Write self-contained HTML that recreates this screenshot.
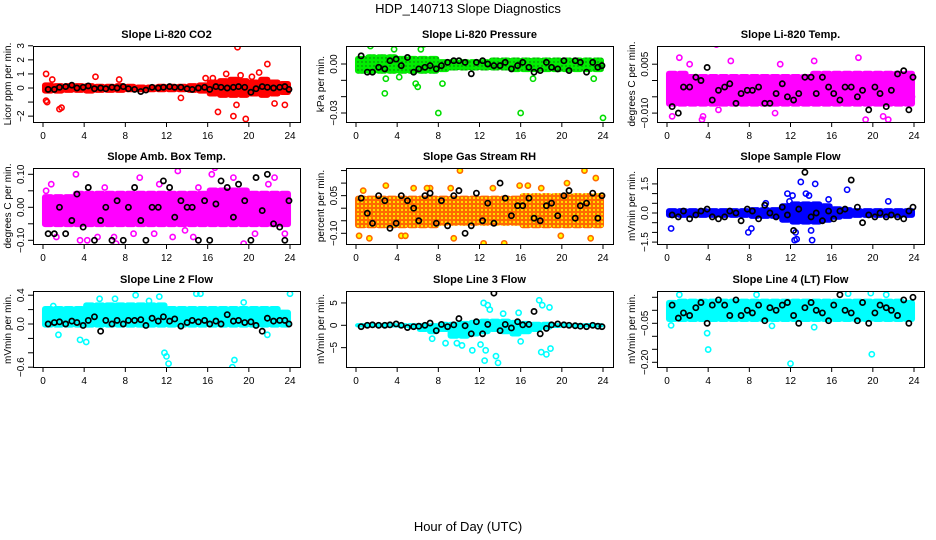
<!DOCTYPE html>
<html><head><meta charset="utf-8"><style>
body{margin:0;background:#fff;}
svg{display:block;font-family:"Liberation Sans",sans-serif;}
</style></head><body>
<svg id="chart" width="936" height="540" viewBox="0 0 936 540">
<defs>
<pattern id="rhpat" width="4" height="4" patternUnits="userSpaceOnUse"><rect width="4" height="4" fill="#ff6a00"/><circle cx="2" cy="2" r="1" fill="#ffff00"/></pattern>
<pattern id="grpat" width="4" height="4" patternUnits="userSpaceOnUse"><rect width="4" height="4" fill="#00ee00"/><circle cx="2" cy="2" r="0.7" fill="#116611"/></pattern>
</defs>
<text x="468" y="13" text-anchor="middle" font-size="13">HDP_140713  Slope Diagnostics</text>
<text x="468" y="531" text-anchor="middle" font-size="13">Hour of Day (UTC)</text>
</svg>
<script>
const HX=[0.5,1.1,1.6,2.2,2.8,3.3,3.9,4.4,5.0,5.6,6.1,6.7,7.2,7.8,8.3,8.9,9.5,10.0,10.6,11.2,11.7,12.3,12.8,13.4,14.0,14.5,15.1,15.7,16.2,16.8,17.3,17.9,18.5,19.0,19.6,20.2,20.7,21.3,21.8,22.4,23.0,23.5,23.9];
const HOURS=[0,1,2,3,4,5,6,7,8,9,10,11,12,13,14,15,16,17,18,19,20,21,22,23];
const xTicks=[0,4,8,12,16,20,24];

const co2Lo=[-0.4,-0.4,-0.35,-0.35,-0.4,-0.35,-0.35,-0.35,-0.3,-0.3,-0.3,-0.3,-0.3,-0.3,-0.35,-0.4,-0.6,-0.7,-0.7,-0.7,-0.6,-0.7,-0.6,-0.5];
const co2Hi=[0.4,0.35,0.35,0.35,0.35,0.3,0.3,0.35,0.3,0.25,0.25,0.3,0.3,0.3,0.35,0.4,0.6,0.7,0.8,0.7,0.6,0.8,0.6,0.5];
const co2Mean=[-0.1,-0.1,0.05,0.1,0.2,0,0.05,0.15,-0.05,0,-0.05,0.05,0,0.1,-0.05,-0.1,-0.25,-0.15,0.05,0,0.05,0.1,0.05,0.05,-0.05,-0.1,0,0.05,-0.1,0.1,0.05,0,0.05,0.1,0.05,-0.3,-0.05,0.1,0.05,0,0.05,0.1,-0.1];
const co2OutX=[0.3,0.4,0.3,1.6,1.8,5.1,7.4,13.4,17,18.5,18.9,19.7,18.8,21.8,23.5,21,22.5,15.8,0.9,20.3,17.8,19.2,16.5];
const co2OutY=[1.0,-1.0,-0.9,-1.5,-1.4,0.8,0.6,-0.7,-1.7,-2.0,2.9,-2.2,-1.2,1.7,-1.2,1.1,-1.1,0.7,0.6,0.8,1.0,0.9,0.7];

const prLo=[-0.006,-0.006,-0.006,-0.006,-0.006,-0.006,-0.006,-0.006,-0.005,-0.004,-0.004,-0.004,-0.004,-0.004,-0.004,-0.005,-0.005,-0.005,-0.005,-0.005,-0.005,-0.005,-0.005,-0.005];
const prHi=[0.005,0.006,0.006,0.006,0.005,0.005,0.005,0.005,0.003,0.003,0.003,0.003,0.003,0.004,0.004,0.004,0.004,0.004,0.004,0.004,0.004,0.004,0.004,0.004];
const prMean=[0.005,-0.005,-0.005,-0.002,-0.003,0.002,0.003,-0.001,0.004,-0.005,-0.003,-0.002,-0.001,-0.003,-0.001,0.001,0.002,0.002,0.001,-0.006,0.001,0.002,0,-0.001,-0.001,0.001,-0.003,-0.001,0.001,-0.002,-0.005,-0.004,0.001,-0.002,-0.003,0.002,-0.004,0.002,0.001,-0.005,0.001,-0.002,-0.001];
const prOutX=[1.4,2.8,3.7,8,16,24,6,5.8,8.4,2.9,6.6,6.3,4.2,17.2,23.1];
const prOutY=[0.011,-0.018,0.009,-0.030,-0.030,-0.033,-0.014,-0.012,-0.012,-0.009,0.012,0.009,-0.008,-0.009,-0.009];

const tLo=[-0.008,-0.008,-0.008,-0.008,-0.008,-0.008,-0.008,-0.008,-0.008,-0.008,-0.008,-0.008,-0.008,-0.008,-0.008,-0.008,-0.008,-0.008,-0.008,-0.008,-0.008,-0.008,-0.008,-0.008];
const tHi=[0.003,0.003,0.002,0.002,0.002,0.002,0.002,0.002,0.002,0.002,0.002,0.002,0.002,0.002,0.003,0.003,0.003,0.003,0.003,0.003,0.003,0.003,0.003,0.003];
const tMean=[-0.008,-0.010,-0.002,-0.002,0.001,0,0.004,-0.006,-0.003,-0.002,-0.001,-0.007,-0.004,-0.003,-0.003,-0.002,-0.007,-0.007,-0.004,-0.001,-0.005,-0.006,-0.004,0.001,0.001,-0.004,0.001,-0.002,-0.004,-0.006,-0.002,-0.002,-0.005,-0.003,-0.009,-0.002,-0.004,-0.008,-0.003,0.002,0.003,-0.009,0.001];
const tOutX=[0.5,1.2,2,3.5,4.8,22.6,18.6,11,21,21.5,3.4,5,2.2,6.2,10.5,14.3,19.3,23.8];
const tOutY=[-0.011,0.007,-0.014,-0.011,0.011,-0.016,0.007,0.005,-0.011,-0.012,-0.012,-0.009,0.005,0.006,-0.010,0.006,-0.012,-0.005];

const aLo=[-0.06,-0.06,-0.06,-0.06,-0.06,-0.06,-0.06,-0.06,-0.06,-0.06,-0.06,-0.06,-0.06,-0.06,-0.06,-0.06,-0.06,-0.06,-0.06,-0.06,-0.06,-0.06,-0.06,-0.06];
const aHi=[0.04,0.04,0.04,0.05,0.05,0.05,0.05,0.05,0.05,0.05,0.05,0.05,0.05,0.05,0.05,0.05,0.06,0.06,0.06,0.06,0.05,0.05,0.05,0.05];
const aMean=[-0.08,-0.08,0,-0.08,-0.04,0.04,-0.06,0.06,-0.1,-0.04,0,-0.1,0.02,-0.1,0,0.06,-0.04,-0.1,0,0,0.08,0.06,-0.03,0.02,0,0,-0.1,0.02,-0.1,0.01,0.08,0.06,-0.03,0.07,0.02,-0.1,0.09,-0.01,0.1,-0.05,-0.06,-0.1,0.02];
const aOutX=[0.3,0.8,1.3,3.2,3.6,4.3,5.3,6.9,7.1,9.4,10.8,11.3,12.6,13.1,13.8,14.6,16.4,16.7,18.5,19.5,20.6,21.9,22.5,23.5,6.0,8.8,15.1];
const aOutY=[0.05,0.07,-0.09,0.1,-0.1,-0.1,-0.09,-0.09,-0.11,0.09,-0.08,0.07,-0.09,0.11,-0.07,-0.09,0.1,0.12,0.09,-0.11,-0.08,0.07,0.09,-0.08,0.06,-0.08,0.06];

const rLo=[-0.08,-0.08,-0.08,-0.08,-0.08,-0.08,-0.08,-0.08,-0.07,-0.07,-0.07,-0.07,-0.07,-0.07,-0.07,-0.07,-0.08,-0.08,-0.08,-0.08,-0.08,-0.08,-0.08,-0.08];
const rHi=[0.05,0.05,0.05,0.05,0.05,0.05,0.05,0.05,0.05,0.05,0.05,0.05,0.05,0.05,0.05,0.05,0.06,0.06,0.06,0.06,0.06,0.06,0.06,0.06];
const rMean=[0.04,-0.02,-0.06,0.05,0.03,-0.08,-0.06,0.05,0.03,0,-0.05,0.05,0.06,-0.06,0.03,-0.07,0.05,0.07,-0.1,-0.07,0.06,-0.05,0.02,-0.06,0.1,0.04,-0.03,0.01,0.01,0.04,-0.04,-0.05,0.01,0.02,-0.03,0.05,0.07,-0.04,0.01,0.02,0.06,-0.04,0.05];
const rOutX=[0.3,1.3,2.9,4.4,4.8,5.6,7.2,9.2,9.5,10.1,12.4,13.3,14.4,15.9,16.7,19.9,20.5,22.2,23.3,22.8,0.7,6.9,18.0];
const rOutY=[-0.11,-0.12,0.09,-0.11,-0.11,0.08,0.08,0.08,-0.12,0.15,-0.14,0.08,-0.14,0.09,0.09,-0.11,0.1,0.15,0.12,-0.12,0.07,0.08,0.08];

const sLo=[-0.25,-0.25,-0.25,-0.25,-0.25,-0.25,-0.25,-0.25,-0.3,-0.3,-0.3,-0.5,-0.6,-0.6,-0.6,-0.5,-0.35,-0.3,-0.25,-0.25,-0.25,-0.25,-0.25,-0.25];
const sHi=[0.25,0.25,0.25,0.25,0.25,0.25,0.25,0.25,0.3,0.3,0.3,0.5,0.6,0.6,0.6,0.5,0.35,0.3,0.25,0.25,0.25,0.25,0.25,0.25];
const sMean=[-0.1,-0.2,0.1,-0.3,-0.1,0.1,0.2,-0.2,-0.3,-0.2,0.1,0,-0.4,0.2,0.1,-0.3,0.4,0,-0.2,0.3,-0.1,-0.9,0.2,2.1,-0.2,0,-0.4,0.1,-0.3,0.1,0.2,1.7,0.3,-0.5,-0.1,-0.2,0,-0.2,-0.1,-0.2,-0.3,0.1,0.3];
const sOutX=[0.4,7.9,8.2,12.5,13.0,14.4,17.5,11.7,12.2,12.4,13.5,13.8,14.1,15.7,11.9,14.0,12.6,21.5,9.6];
const sOutY=[-0.8,-1.0,-0.8,-1.0,1.6,1.5,1.2,1.0,0.9,-1.4,1.0,0.9,-1.4,0.7,0.6,-0.9,-1.35,0.6,0.5];

const l2Lo=[-0.05,-0.05,-0.05,-0.05,-0.05,-0.05,-0.05,-0.05,-0.05,-0.05,-0.05,-0.05,-0.05,-0.05,-0.05,-0.05,-0.05,-0.05,-0.05,-0.05,-0.05,-0.05,-0.05,-0.05];
const l2Hi=[0.25,0.25,0.25,0.25,0.3,0.3,0.3,0.3,0.3,0.3,0.3,0.3,0.25,0.25,0.25,0.25,0.25,0.25,0.25,0.25,0.25,0.25,0.25,0.2];
const l2Mean=[0.0,0.02,0.03,0.0,0.04,0.02,-0.02,0.05,0.1,-0.1,0.05,0.0,0.05,0.0,0.05,0.05,0.06,-0.02,0.08,0.04,0.1,0.04,0.07,-0.03,0.02,0.05,0.03,0.05,0.0,0.04,0.0,0.13,0.04,0.05,0.02,0.03,-0.02,-0.1,0.08,0.04,0.05,0.05,0.0];
const l2OutX=[4.6,12.0,12.2,11.8,18.4,18.6,24.0,4.2,3.6,1.5,5.5,7.0,9.0,11.3,14.9,15.3,19.5,21.8,1.0,10.3];
const l2OutY=[0.5,-0.45,-0.55,-0.4,-0.6,-0.5,0.42,-0.25,-0.22,-0.15,0.35,0.35,0.4,0.38,0.42,0.42,0.3,-0.15,0.25,0.32];

const l3Lo=[-0.5,-0.5,-0.5,-0.5,-0.6,-0.8,-1.5,-2.0,-1.5,-3.0,-3.0,-2.5,-2.0,-1.5,-2.0,-2.5,-2.0,-1.5,-1.0,-0.6,-0.5,-0.5,-0.5,-0.5];
const l3Hi=[0.5,0.5,0.5,0.5,0.5,0.5,0.5,0.5,0.8,0.8,1.0,1.2,1.5,1.5,1.5,1.2,1.0,0.8,0.8,0.5,0.5,0.5,0.5,0.5];
const l3Mean=[-0.3,0,0.1,0,0,0.1,0.3,0,-0.5,-0.3,-0.2,0,0.5,-1.2,0.2,-0.3,0.1,1.5,-0.1,-1.9,0.8,-1.9,0.2,7.2,-1.2,0.2,-0.6,0.8,0.1,0.2,3.1,-1.9,-0.7,0.1,0.3,0.1,0,-0.1,-0.2,-0.3,0,-0.2,-0.3];
const l3OutX=[12.4,12.8,13.0,12.5,13.8,13.6,17.8,18.1,18.8,18.0,18.5,15.8,14.3,11.3,8.7,9.8,10.3,12.1,12.6,16.0,7.4,18.9];
const l3OutY=[5.0,4.5,3.5,-7.9,-8.4,-6.9,5.6,4.5,4.0,-6.0,-6.5,2.8,2.6,-5.6,-4.0,-4.0,-4.5,-4.3,-5.6,-3.6,-3.0,-5.2];

const l4Lo=[-0.045,-0.045,-0.045,-0.045,-0.045,-0.045,-0.045,-0.045,-0.045,-0.045,-0.045,-0.045,-0.045,-0.045,-0.045,-0.045,-0.045,-0.045,-0.045,-0.045,-0.045,-0.045,-0.045,-0.045];
const l4Hi=[0.04,0.045,0.045,0.045,0.045,0.045,0.045,0.045,0.045,0.045,0.045,0.045,0.045,0.045,0.045,0.045,0.045,0.045,0.045,0.045,0.045,0.045,0.045,0.04];
const l4Mean=[0.02,-0.03,-0.01,-0.02,0.01,0.03,-0.05,0.02,0.04,0.02,-0.02,0.04,-0.02,0.0,-0.01,0.02,-0.04,0.01,0.0,0.02,0.03,-0.02,-0.05,0.01,0.03,0,-0.01,-0.04,0.02,0.06,0,-0.01,-0.04,0.03,-0.05,-0.01,0.02,0.01,0,-0.02,0.04,-0.05,0.05];
const l4OutX=[0.4,3.9,4.0,12.0,19.9,1.2,8.7,17.6,19.8,21.3,10.2,14.3];
const l4OutY=[-0.058,-0.088,-0.151,-0.205,-0.169,0.06,0.06,0.064,0.066,0.06,-0.06,-0.065];

const svg=document.getElementById('chart');
const NS='http://www.w3.org/2000/svg';
function mk(tag,attrs,parent){const e=document.createElementNS(NS,tag);for(const k in attrs)e.setAttribute(k,attrs[k]);(parent||svg).appendChild(e);return e;}

const COLX=[33,346,657], BOXW=267, ROWY=[46,168,291], BOXH=76;
const panels=[
 {name:'co2',title:'Slope Li-820 CO2',ylab:'Licor ppm per min.',c:0,r:0,y0:88,k:14.07,ticks:[-2,-1,0,1,2,3],labels:['−2','','0','1','2','3'],color:'#ff0000',lo:co2Lo,hi:co2Hi,m:co2Mean,ox:co2OutX,oy:co2OutY},
 {name:'pressure',title:'Slope Li-820 Pressure',ylab:'kPa per min.',c:1,r:0,y0:64,k:1633,ticks:[0,-0.01,-0.02,-0.03],labels:['0.00','','','−0.03'],color:'#00dd00',fill:'url(#grpat)',lo:prLo,hi:prHi,m:prMean,ox:prOutX,oy:prOutY},
 {name:'li820-temp',title:'Slope Li-820 Temp.',ylab:'degrees C per min.',c:2,r:0,y0:80.5,k:3260,ticks:[0.005,0,-0.005,-0.01],labels:['0.005','','','−0.010'],color:'#ff00ff',lo:tLo,hi:tHi,m:tMean,ox:tOutX,oy:tOutY},
 {name:'amb-box-temp',title:'Slope Amb. Box Temp.',ylab:'degrees C per min.',c:0,r:1,y0:207.3,k:330,ticks:[0.1,0.05,0,-0.05,-0.1],labels:['0.10','','0.00','','−0.10'],color:'#ff00ff',lo:aLo,hi:aHi,m:aMean,ox:aOutX,oy:aOutY},
 {name:'gas-stream-rh',title:'Slope Gas Stream RH',ylab:'percent per min.',c:1,r:1,y0:208.2,k:251,ticks:[0.15,0.1,0.05,0,-0.05,-0.1],labels:['','','0.05','','','−0.10'],color:'#ff6a00',fill:'url(#rhpat)',lo:rLo,hi:rHi,m:rMean,ox:rOutX,oy:rOutY},
 {name:'sample-flow',title:'Slope Sample Flow',ylab:'mVmin per min.',c:2,r:1,y0:213,k:19.4,ticks:[1.5,1,0.5,0,-0.5,-1,-1.5],labels:['1.5','','','0.0','','','−1.5'],color:'#0000ff',lo:sLo,hi:sHi,m:sMean,ox:sOutX,oy:sOutY},
 {name:'line2-flow',title:'Slope Line 2 Flow',ylab:'mVmin per min.',c:0,r:2,y0:324,k:72,ticks:[0.4,0.2,0,-0.2,-0.4,-0.6],labels:['0.4','','0.0','','','−0.6'],color:'#00ffff',lo:l2Lo,hi:l2Hi,m:l2Mean,ox:l2OutX,oy:l2OutY},
 {name:'line3-flow',title:'Slope Line 3 Flow',ylab:'mVmin per min.',c:1,r:2,y0:325.3,k:4.47,ticks:[5,0,-5],labels:['5','0','−5'],color:'#00ffff',lo:l3Lo,hi:l3Hi,m:l3Mean,ox:l3OutX,oy:l3OutY},
 {name:'line4-flow',title:'Slope Line 4 (LT) Flow',ylab:'mVmin per min.',c:2,r:2,y0:310.3,k:260,ticks:[0.05,0,-0.05,-0.1,-0.15,-0.2],labels:['','','−0.05','','','−0.20'],color:'#00ffff',lo:l4Lo,hi:l4Hi,m:l4Mean,ox:l4OutX,oy:l4OutY}
];

panels.forEach(p=>{
 const L=COLX[p.c], T=ROWY[p.r];
 const xs=h=>L+10+h*(247/24);
 const ys=v=>p.y0-v*p.k;
 const g=mk('g',{});
 
 
 const cp=mk('clipPath',{id:'clip-'+p.name},g);
 mk('rect',{x:L,y:T,width:BOXW,height:BOXH},cp);
 const cg=mk('g',{'clip-path':'url(#clip-'+p.name+')'},g);
 HOURS.forEach((h,i)=>{
  const x1=xs(Math.max(h-0.1,-0.2)), x2=xs(Math.min(h+1.1,24.2));
  const b=mk('rect',{x:x1,y:ys(p.hi[i]),width:x2-x1,height:ys(p.lo[i])-ys(p.hi[i]),fill:p.fill||p.color,rx:3},cg);
  
  
 });
 p.ox.forEach((x,i)=>{
  const c=mk('circle',{cx:xs(x),cy:ys(p.oy[i]),r:2.6,fill:p.name==='gas-stream-rh'?'#ffff00':'none',stroke:p.color,'stroke-width':1.6},cg);
  
  
 });
 HX.forEach((x,i)=>{
  const c=mk('circle',{cx:xs(x),cy:ys(p.m[i]),r:2.6,fill:'none',stroke:'#000','stroke-width':1.7},cg);
  
  
 });
 const box=mk('rect',{x:L+0.5,y:T+0.5,width:BOXW,height:BOXH,fill:'none',stroke:'#000','stroke-width':1},g);
 
 
 const t=mk('text',{x:L+BOXW/2,y:T-8,'text-anchor':'middle','font-size':11,'font-weight':'bold'},g);
 t.textContent=p.title;
 
 
 xTicks.forEach(h=>{
  const x=xs(h);
  mk('line',{x1:x,y1:T+BOXH,x2:x,y2:T+BOXH+5,stroke:'#000'},g);
  const tl=mk('text',{x:x,y:T+BOXH+17,'text-anchor':'middle','font-size':10},g);
  tl.textContent=h;
  
  
 });
 mk('line',{x1:xs(0),y1:T+BOXH+0.5,x2:xs(24),y2:T+BOXH+0.5,stroke:'#000'},g);
 p.ticks.forEach((v,i)=>{
  const y=ys(v);
  mk('line',{x1:L-5,y1:y,x2:L,y2:y,stroke:'#000'},g);
  if(p.labels[i]){
   const yl=mk('text',{x:L-9,y:y,'text-anchor':'middle','font-size':10,transform:'rotate(-90 '+(L-9)+' '+y+')'},g);
   yl.textContent=p.labels[i];
   
   
  }
 });
 const yt=mk('text',{x:L-22,y:T+BOXH/2,'text-anchor':'middle','font-size':10,transform:'rotate(-90 '+(L-22)+' '+(T+BOXH/2)+')'},g);
 yt.textContent=p.ylab;
 
 
});
</script>
</body></html>
